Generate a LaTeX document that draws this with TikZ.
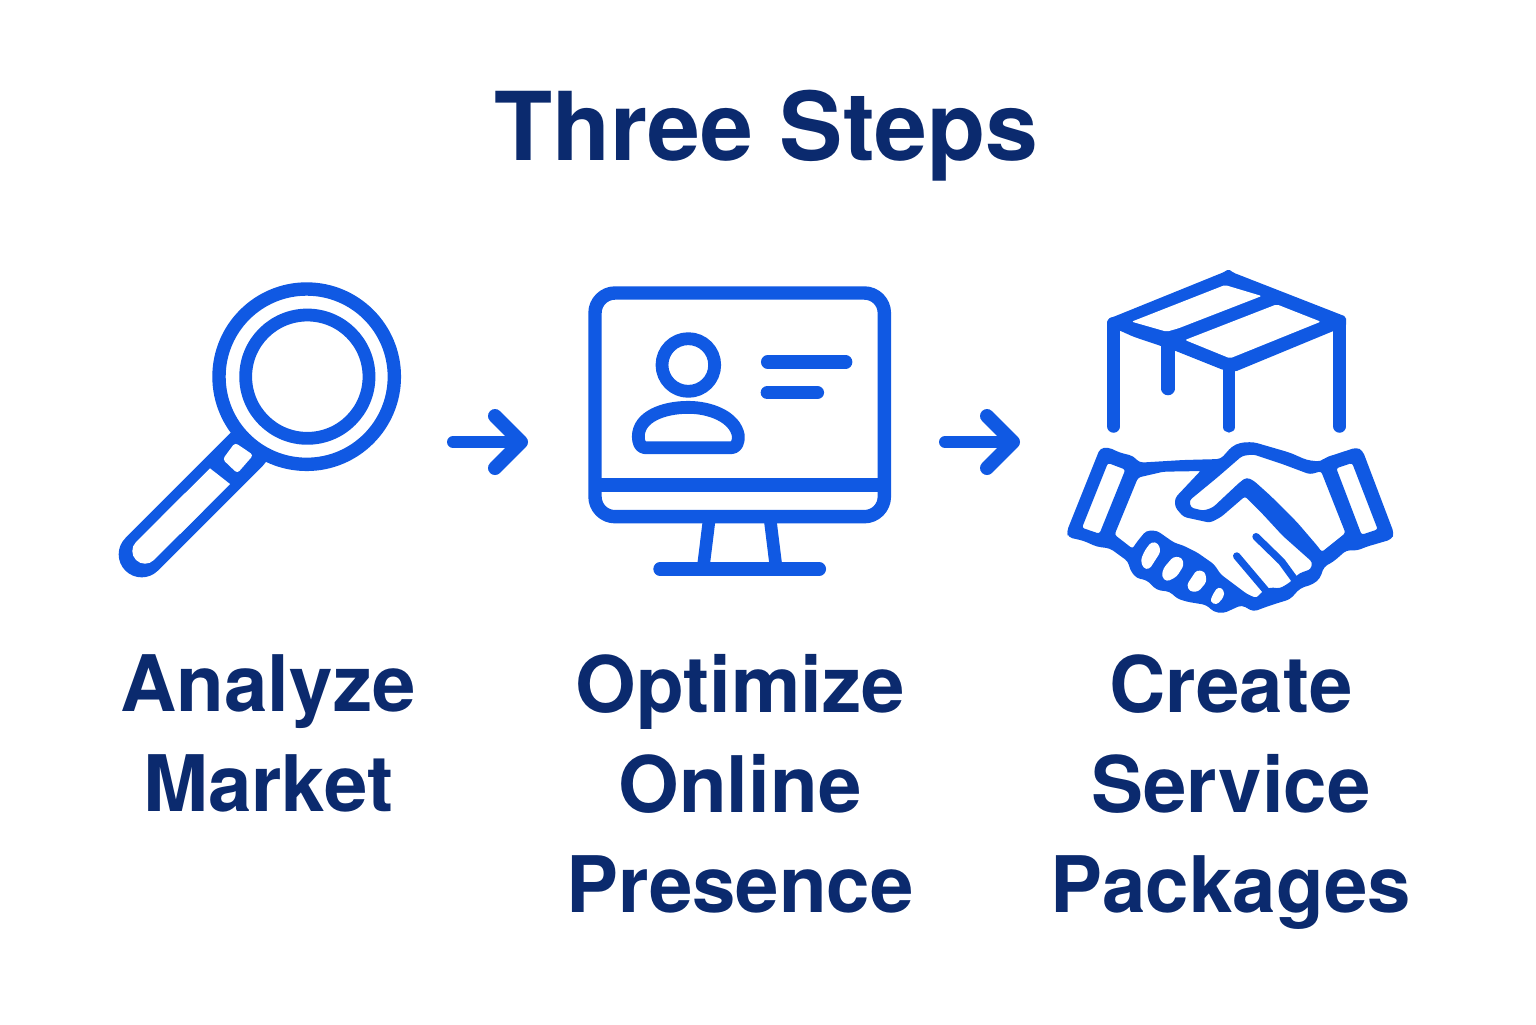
\documentclass[tikz,border=0pt]{standalone}
\usepackage{fontspec}
\setmainfont{TeX Gyre Heros}
\usetikzlibrary{arrows.meta}
\definecolor{iconblue}{HTML}{1059E3}
\definecolor{navy}{HTML}{0B2A6E}
\tikzset{
  titletext/.style={text=navy,inner sep=0pt,font=\fontsize{47.5}{56}\selectfont\bfseries},
  labeltext/.style={text=navy,inner sep=0pt,align=center,anchor=north,font=\fontsize{39}{50}\selectfont\bfseries},
  flowarrow/.style={draw=iconblue,line width=6pt,line cap=round,-{Straight Barb[round,length=13pt,width=26pt,line width=7pt]}},
  iconline/.style={draw=iconblue,line cap=round,line join=round},
  bluefill/.style={fill=iconblue,rounded corners=2pt},
  whitefill/.style={fill=white,rounded corners=1.6pt},
  handhole/.style={fill=white,draw=iconblue,line width=1pt,rounded corners=1.6pt},
  zoomed/.style={x=0.16667pt,y=-0.16667pt}
}
\begin{document}
\begin{tikzpicture}[x=0.5pt,y=-0.5pt]
\useasboundingbox (0,0) rectangle (1536,1024);
\fill[white] (0,0) rectangle (1536,1024);

\node[titletext] (title) at (766,135.5) {Three Steps};
\node[labeltext] (lab1) at (268,654) {Analyze\\Market};
\node[labeltext] (lab2) at (740,654) {Optimize\\Online\\Presence};
\node[labeltext] (lab3) at (1231,654) {Create\\Service\\Packages};

% magnifier
\begin{scope}[shift={(100,270)},zoomed]
\draw[iconline,line width=23pt] (125,853) -- (440,538);
\fill[whitefill] (405,518) -- (460,555) -- (412,610) -- (368,568) -- cycle;
\draw[draw=white,line width=12.7pt,line cap=round] (135,843) -- (280,698);
\fill[white] (330,595) -- (390,642) -- (240,792) -- (185,740) -- cycle;
\draw[iconline,fill=white,line width=6.7pt] (620,320) circle (263);
\draw[iconline,line width=6.4pt] (622,320) circle (185);
\end{scope}

% monitor
\begin{scope}[shift={(570,270)},zoomed]
\draw[iconline,line width=6.3pt] (418,745) -- (400,890);
\draw[iconline,line width=6.3pt] (600,745) -- (618,890);
\draw[iconline,line width=6.7pt] (270,897) -- (748,897);
\draw[iconline,line width=6.7pt,rounded corners=10pt] (75,69) rectangle (943,740);
\draw[iconline,line width=6.7pt,line cap=butt] (75,645) -- (943,645);
\draw[iconline,line width=6.4pt] (355,285) circle (79);
\draw[iconline,line width=6.4pt] (225,533) -- (485,533) .. controls (500,533) and (506,515) .. (505,497) .. controls (495,440) and (420,412) .. (355,412) .. controls (280,412) and (205,440) .. (205,500) .. controls (205,515) and (210,533) .. (225,533) -- cycle;
\draw[iconline,line width=6.7pt] (593,276) -- (827,276);
\draw[iconline,line width=6.7pt] (592,368) -- (742,368);
\end{scope}

% box and handshake
\begin{scope}[shift={(1050,260)},zoomed]
\fill[fill=iconblue,rounded corners=1pt] (172,178) -- (525,35) -- (535,27) -- (550,38) -- (888,170) -- (888,200) -- (850,213) -- (555,335) -- (520,330) -- (375,272) -- (333,258) -- (250,230) -- (210,212) -- (172,200) -- cycle;
\fill[white,rounded corners=1pt] (245,185) -- (525,75) -- (635,108) -- (385,205) -- (350,215) -- cycle;
\fill[white,rounded corners=1pt] (405,240) -- (680,133) -- (812,185) -- (540,295) -- cycle;
\draw[iconline,line width=6.4pt] (191,190) -- (191,499);
\draw[iconline,line width=6.4pt] (869,190) -- (869,499);
\draw[iconline,line width=5.6pt] (537,315) -- (537,501);
\draw[iconline,line width=6.6pt] (354,250) -- (354,386);
% handshake silhouette
\fill[bluefill] (150,565) -- (175,562) -- (210,578) -- (250,588) -- (268,608) -- (400,600) -- (512,597) -- (545,560) -- (570,548) -- (610,546) -- (720,578) -- (770,600) -- (812,605) -- (825,593) -- (920,562) -- (938,572) -- (1032,820) -- (1025,838) -- (950,860) -- (920,872) -- (890,870) -- (850,905) -- (822,920) -- (810,955) -- (790,972) -- (750,985) -- (720,1018) -- (680,1030) -- (650,1040) -- (610,1055) -- (575,1035) -- (520,1060) -- (490,1055) -- (470,1035) -- (410,1025) -- (380,1015) -- (360,995) -- (320,990) -- (290,960) -- (260,955) -- (240,930) -- (235,905) -- (180,865) -- (140,860) -- (100,842) -- (55,832) -- (50,815) -- cycle;
% cuffs
\filldraw[handhole] (172,605) -- (230,627) -- (150,825) -- (92,805) -- cycle;
\filldraw[handhole] (855,623) -- (908,605) -- (987,810) -- (933,828) -- cycle;
% lower hand
\filldraw[handhole] (262,650) -- (340,632) -- (458,630) -- (378,715) -- (378,740) -- (402,768) -- (480,785) -- (512,768) -- (585,705) -- (640,760) -- (700,825) -- (790,905) -- (785,930) -- (750,942) -- (718,972) -- (690,988) -- (660,985) -- (635,1000) -- (620,1018) -- (590,1005) -- (510,945) -- (490,915) -- (440,880) -- (400,860) -- (370,850) -- (320,815) -- (290,815) -- (265,845) -- (248,870) -- (190,825) -- cycle;
% upper hand
\filldraw[handhole] (415,720) -- (500,650) -- (575,585) -- (610,580) -- (700,610) -- (780,640) -- (815,630) -- (890,820) -- (815,880) -- (800,860) -- (740,790) -- (660,710) -- (610,665) -- (590,655) -- (570,670) -- (490,745) -- (460,755) -- (420,745) -- cycle;
% finger strokes
\draw[iconline,line width=3.7pt] (618,830) -- (695,905) -- (735,960);
\draw[iconline,line width=3.7pt] (560,888) -- (648,992);
% fingers
\fill[whitefill] (305,845) -- (325,850) -- (332,875) -- (298,928) -- (280,925) -- (272,900) -- (285,870) -- cycle;
\fill[whitefill] (370,890) -- (395,892) -- (402,915) -- (380,950) -- (350,965) -- (335,950) -- (340,925) -- cycle;
\fill[whitefill] (440,930) -- (465,935) -- (470,965) -- (445,995) -- (420,995) -- (410,975) -- cycle;
\fill[whitefill] (505,980) -- (522,990) -- (522,1010) -- (500,1035) -- (480,1025) -- (490,1000) -- cycle;
\end{scope}

% connectors
\coordinate (arrowAstart) at (453,442);
\coordinate (arrowAend) at (528,442);
\coordinate (arrowBstart) at (945,442);
\coordinate (arrowBend) at (1020,442);
\draw[flowarrow] (arrowAstart) -- (arrowAend);
\draw[flowarrow] (arrowBstart) -- (arrowBend);
\end{tikzpicture}
\end{document}
